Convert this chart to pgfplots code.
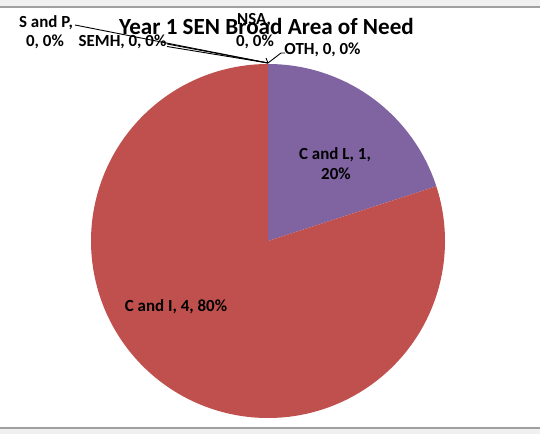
\documentclass[border=0pt]{standalone}
\usepackage{pgfplots}
\pgfplotsset{compat=1.18}
\usepackage{fontspec}
\setmainfont{Carlito}
\definecolor{xlred}{HTML}{C0504D}
\definecolor{xlpurple}{HTML}{8064A2}
\definecolor{band}{HTML}{F0F0F0}
\definecolor{bandline}{HTML}{A0A0A0}
% data: category values (Year 1 SEN broad area of need)
\def\vSP{0}\def\vSEMH{0}\def\vNSA{0}\def\vOTH{0}\def\vCL{1}\def\vCI{4}
\begin{document}
\begin{tikzpicture}
\pgfmathsetmacro{\total}{\vSP+\vSEMH+\vNSA+\vOTH+\vCL+\vCI}
\pgfmathsetmacro{\aCLend}{90-360*\vCL/\total}
\pgfmathsetmacro{\aCIend}{\aCLend-360*\vCI/\total}
\begin{axis}[scale only axis, width=540bp, height=434bp,
  xmin=0, xmax=540, ymin=0, ymax=434, hide axis, clip=false]
% frame bands
\fill[band] (axis cs:0,427) rectangle (axis cs:540,434);
\fill[bandline] (axis cs:0,425.5) rectangle (axis cs:540,427.5);
\fill[band] (axis cs:0,0) rectangle (axis cs:540,5);
\fill[bandline] (axis cs:0,5) rectangle (axis cs:540,7);
% wedges
\addplot[fill=xlpurple, draw=none, domain=\aCLend:90, samples=120, variable=\t]
  ({268+177*cos(t)},{193+177*sin(t)}) -- (axis cs:268,193) -- cycle;
\addplot[fill=xlred, draw=none, domain=\aCIend:\aCLend, samples=240, variable=\t]
  ({268+177*cos(t)},{193+177*sin(t)}) -- (axis cs:268,193) -- cycle;
% leader lines
\draw[black, line width=0.9bp] (axis cs:75,409) -- (axis cs:268,371);
\draw[black, line width=0.9bp] (axis cs:167,390) -- (axis cs:268,371);
\draw[black, line width=0.9bp] (axis cs:167,387.5) -- (axis cs:268,371);
\draw[black, line width=0.9bp] (axis cs:266,376) -- (axis cs:268,371);
\draw[black, line width=0.9bp] (axis cs:285,381) -- (axis cs:281,381) -- (axis cs:268,371);
% title
\node[anchor=base, inner sep=0pt, font=\bfseries\fontsize{23.2}{27}\selectfont] at (axis cs:266.5,399) {Year 1 SEN Broad Area of Need};
% labels
\begin{scope}[every node/.style={anchor=base, inner sep=0pt, font=\bfseries\fontsize{17}{20}\selectfont}]
\node at (axis cs:46,406) {S and P,};
\node at (axis cs:45,387) {0, 0\%};
\node at (axis cs:122.5,387) {SEMH, 0, 0\%};
\node at (axis cs:254,409) {NSA,};
\node at (axis cs:255,387) {0, 0\%};
\node at (axis cs:322.5,379) {OTH, 0, 0\%};
\node at (axis cs:335,274) {C and L, 1,};
\node at (axis cs:336,254) {20\%};
\node at (axis cs:176,123) {C and I, 4, 80\%};
\end{scope}
\end{axis}
\end{tikzpicture}
\end{document}
